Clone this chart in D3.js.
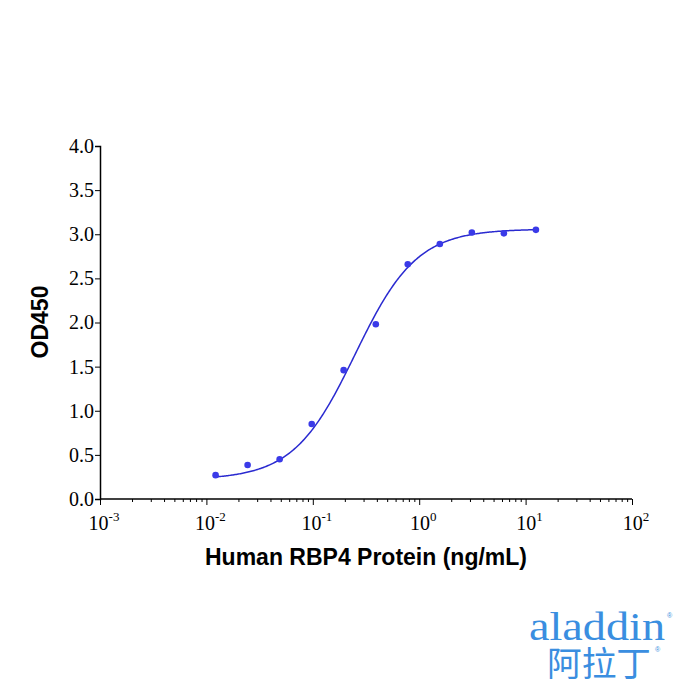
<!DOCTYPE html><html><head><meta charset="utf-8"><script src="https://cdn.jsdelivr.net/npm/d3@7"></script>
<style>body{margin:0;background:#fff}</style></head><body><svg id="c" width="700" height="700"></svg>
<script>
const conc=[0.0122,0.0244,0.0488,0.0977,0.195,0.391,0.781,1.5625,3.125,6.25,12.5];
const od=[0.27,0.385,0.45,0.85,1.46,1.98,2.66,2.89,3.02,3.01,3.05];
const fit={bottom:0.22,top:3.06,ec50:0.25,hill:1.5};
const yTicks=[0,0.5,1,1.5,2,2.5,3,3.5,4];
const xExp=[-3,-2,-1,0,1,2];
const svg=d3.select("#c");
const x=d3.scaleLog().domain([1e-3,1e2]).range([100,632]);
const y=d3.scaleLinear().domain([0,4]).range([499,146]);
const blue="#2a2ad0";
const ya=svg.append("g").attr("transform","translate(100,0)").call(d3.axisLeft(y).tickValues(yTicks).tickFormat(d3.format(".1f")).tickSize(5));
ya.select(".domain").attr("stroke-width",1.5);
ya.selectAll("text").attr("font-family","Liberation Serif").attr("font-size",20).attr("fill","#000").attr("dx",2);
const minors=[];for(let e=-3;e<2;e++)for(let k=2;k<10;k++)minors.push(k*Math.pow(10,e));
const xa=svg.append("g").attr("transform","translate(0,499)").call(d3.axisBottom(x).tickValues(xExp.map(e=>Math.pow(10,e))).tickFormat("").tickSize(6));
xa.select(".domain").attr("stroke-width",1.5).attr("d","M100,0H632");
svg.append("g").attr("transform","translate(0,499)").call(d3.axisBottom(x).tickValues(minors).tickFormat("").tickSize(3)).select(".domain").remove();
xExp.forEach(e=>{const t=svg.append("text").attr("x",x(Math.pow(10,e))+4).attr("y",530).attr("text-anchor","middle").attr("font-family","Liberation Serif").attr("font-size",20);
t.append("tspan").text("10");t.append("tspan").attr("dy",-9).attr("font-size",13).text(e);});
const xs=d3.range(-1.92,1.1,0.01).map(l=>Math.pow(10,l));
const f=c=>fit.bottom+(fit.top-fit.bottom)/(1+Math.pow(fit.ec50/c,fit.hill));
svg.append("path").datum(xs).attr("fill","none").attr("stroke",blue).attr("stroke-width",1.5)
 .attr("d",d3.line().x(d=>x(d)).y(d=>y(f(d))));
svg.selectAll("circle").data(conc).enter().append("circle").attr("cx",d=>x(d)).attr("cy",(d,i)=>y(od[i])).attr("r",3.3).attr("fill","#3a3ae8");
svg.append("text").attr("x",366).attr("y",565).attr("text-anchor","middle").attr("font-family","Liberation Sans").attr("font-weight","bold").attr("font-size",23).text("Human RBP4 Protein (ng/mL)");
svg.append("text").attr("transform","translate(48,322) rotate(-90)").attr("text-anchor","middle").attr("font-family","Liberation Sans").attr("font-weight","bold").attr("font-size",23).text("OD450");
const lg=svg.append("g"), lc="#3a8ee0";
lg.append("text").attr("x",529).attr("y",640).attr("font-family","Liberation Serif").attr("font-size",40).attr("textLength",136).attr("lengthAdjust","spacingAndGlyphs").attr("fill",lc).text("aladdin");
lg.append("text").attr("x",667).attr("y",618).attr("font-family","Liberation Sans").attr("font-size",7).attr("fill",lc).text("®");
lg.append("text").attr("x",547).attr("y",676).attr("font-family","Noto Sans CJK SC").attr("font-size",34).attr("textLength",104).attr("lengthAdjust","spacingAndGlyphs").attr("fill",lc).text("阿拉丁");
lg.append("text").attr("x",655).attr("y",652).attr("font-family","Liberation Sans").attr("font-size",7).attr("fill",lc).text("®");
</script></body></html>
